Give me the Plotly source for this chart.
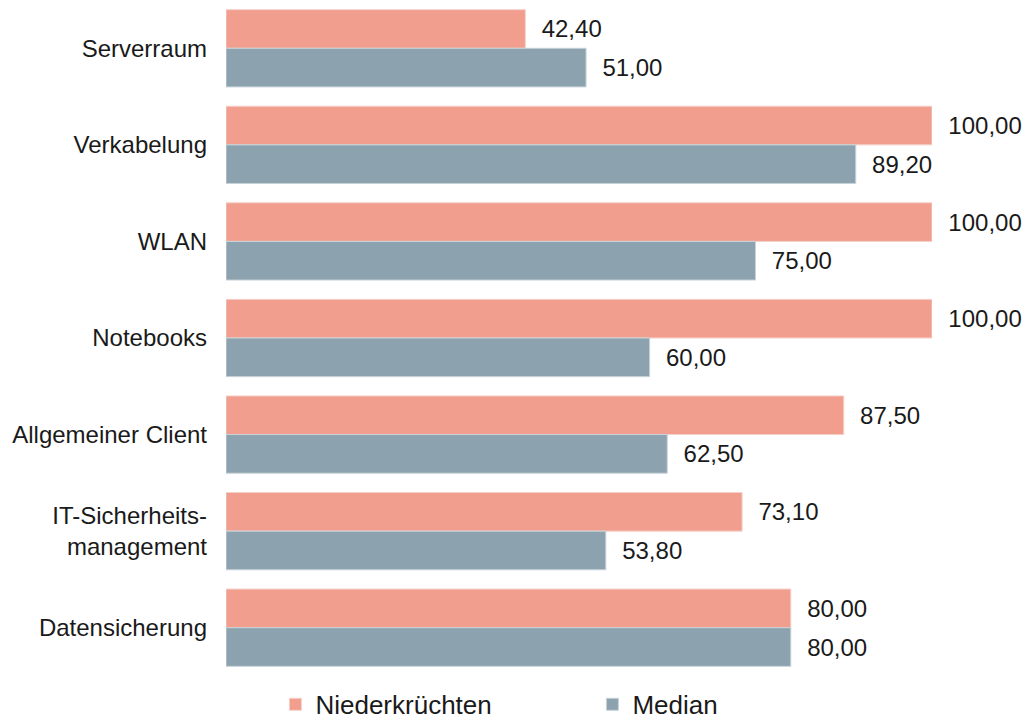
import plotly.graph_objects as go

# Categories (top to bottom) and values
categories = ['Serverraum', 'Verkabelung', 'WLAN', 'Notebooks', 'Allgemeiner Client',
              'IT-Sicherheits-<br>management', 'Datensicherung']
niederkruechten = [42.40, 100.00, 100.00, 100.00, 87.50, 73.10, 80.00]
median = [51.00, 89.20, 75.00, 60.00, 62.50, 53.80, 80.00]

font_family = 'Liberation Sans, Arial, sans-serif'
label_tpl = '\u00a0\u00a0%{x:.2f}'

fig = go.Figure(
    data=[
        go.Bar(y=categories, x=niederkruechten, name='Niederkrüchten', orientation='h',
               marker=dict(color='#F19E8E', line=dict(color='#F5D0C8', width=1)),
               texttemplate=label_tpl, textposition='outside', cliponaxis=False,
               textfont=dict(size=24, color='#1a1a1a')),
        go.Bar(y=categories, x=median, name='Median', orientation='h',
               marker=dict(color='#8CA2AE', line=dict(color='#C8D3D9', width=1)),
               texttemplate=label_tpl, textposition='outside', cliponaxis=False,
               textfont=dict(size=24, color='#1a1a1a')),
    ],
    layout=dict(
        width=1026,
        height=724,
        barmode='group',
        bargap=0.2,
        bargroupgap=0,
        separators=',.',
        plot_bgcolor='white',
        paper_bgcolor='white',
        font=dict(family=font_family, size=24, color='#1a1a1a'),
        margin=dict(l=226, r=94, t=0, b=48, autoexpand=False),
        xaxis=dict(range=[0, 100], visible=False),
        yaxis=dict(autorange='reversed', showline=False, showgrid=False,
                   ticks='', ticklabelstandoff=18, tickfont=dict(size=24)),
        showlegend=True,
        legend=dict(orientation='h', x=0.07, xanchor='left', y=-0.042, yanchor='middle',
                    font=dict(size=26), entrywidth=272, entrywidthmode='pixels',
                    itemwidth=30),
    ),
)

# body margin would shift the fixed-size figure by 8px
fig.write_html("out.html", config={'displayModeBar': False},
               post_script="document.body.style.margin='0';")
